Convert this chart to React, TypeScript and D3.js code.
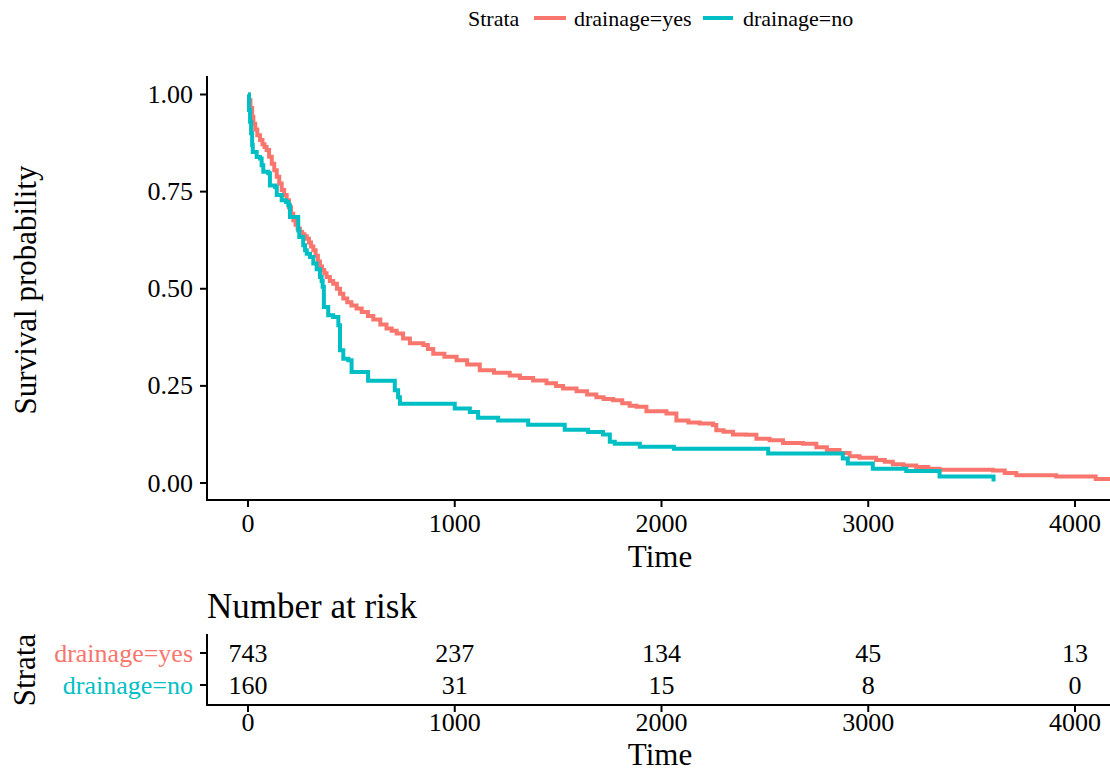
import React from "react";
import * as d3 from "d3";

const strata = ["drainage=yes", "drainage=no"];
const colors = ["#F8766D", "#00BFC4"];

const yesTime = [0, 5, 12, 20, 26, 35, 45, 58, 70, 80, 90, 102, 115, 127, 139, 151, 163, 175, 187, 198, 208, 219, 230, 240, 251, 262, 273, 284, 295, 305, 316, 327, 338, 348, 358, 369, 380, 396, 412, 430, 445, 461, 480, 500, 525, 550, 580, 606, 640, 670, 695, 719, 750, 783, 848, 870, 896, 950, 1009, 1060, 1121, 1190, 1266, 1315, 1379, 1444, 1490, 1524, 1589, 1640, 1685, 1720, 1766, 1810, 1846, 1879, 1927, 2024, 2072, 2130, 2185, 2249, 2265, 2300, 2346, 2410, 2459, 2523, 2588, 2684, 2749, 2800, 2861, 2910, 2958, 3038, 3080, 3119, 3170, 3232, 3290, 3345, 3603, 3660, 3716, 3909, 4100, 4170];
const yesSurv = [1.0, 0.985, 0.965, 0.943, 0.925, 0.91, 0.895, 0.883, 0.872, 0.865, 0.857, 0.84, 0.822, 0.805, 0.788, 0.771, 0.754, 0.741, 0.728, 0.71, 0.693, 0.676, 0.665, 0.655, 0.646, 0.64, 0.635, 0.629, 0.619, 0.609, 0.599, 0.585, 0.57, 0.557, 0.548, 0.54, 0.53, 0.52, 0.513, 0.5, 0.487, 0.475, 0.465, 0.457, 0.449, 0.44, 0.43, 0.421, 0.408, 0.398, 0.392, 0.385, 0.372, 0.36, 0.355, 0.345, 0.333, 0.325, 0.316, 0.305, 0.29, 0.284, 0.277, 0.27, 0.264, 0.257, 0.25, 0.243, 0.236, 0.228, 0.221, 0.216, 0.213, 0.205, 0.199, 0.196, 0.185, 0.179, 0.161, 0.156, 0.153, 0.149, 0.136, 0.132, 0.125, 0.124, 0.114, 0.11, 0.103, 0.101, 0.092, 0.085, 0.077, 0.069, 0.065, 0.059, 0.055, 0.048, 0.045, 0.041, 0.037, 0.034, 0.032, 0.026, 0.02, 0.017, 0.01, 0.01];

const noTime = [0, 5, 10, 15, 20, 23, 42, 58, 66, 74, 98, 106, 131, 139, 163, 184, 195, 203, 237, 243, 248, 267, 276, 284, 300, 316, 332, 348, 356, 361, 367, 388, 412, 437, 445, 461, 485, 501, 581, 710, 726, 735, 1000, 1073, 1113, 1210, 1355, 1532, 1645, 1717, 1750, 1774, 1895, 2060, 2516, 2877, 2901, 3022, 3184, 3345, 3606];
const noSurv = [1.0, 0.96, 0.93, 0.9, 0.87, 0.852, 0.839, 0.835, 0.818, 0.801, 0.797, 0.766, 0.762, 0.741, 0.728, 0.723, 0.715, 0.685, 0.685, 0.65, 0.633, 0.612, 0.599, 0.59, 0.582, 0.565, 0.55, 0.53, 0.52, 0.505, 0.453, 0.432, 0.427, 0.406, 0.342, 0.32, 0.316, 0.286, 0.263, 0.239, 0.221, 0.204, 0.192, 0.183, 0.168, 0.161, 0.15, 0.137, 0.131, 0.125, 0.106, 0.101, 0.093, 0.088, 0.076, 0.063, 0.05, 0.037, 0.031, 0.017, 0.004];

const riskTimes = [0, 1000, 2000, 3000, 4000];
const riskYes = [743, 237, 134, 45, 13];
const riskNo = [160, 31, 15, 8, 0];
const yTicks = [0, 0.25, 0.5, 0.75, 1.0];

const FONT = "'Liberation Serif', 'DejaVu Serif', serif";

export default function App() {
  const left = 207, right = 1110;
  const x = d3.scaleLinear().domain([0, 4000]).range([248, 1075]);
  const y = d3.scaleLinear().domain([0, 1]).range([483, 94.5]);
  const panelTop = 76, panelBottom = 500;

  const line = d3
    .line<[number, number]>()
    .x((d) => x(d[0]))
    .y((d) => y(d[1]))
    .curve(d3.curveStepAfter);

  const series = [
    yesTime.map((t, i) => [t, yesSurv[i]] as [number, number]),
    noTime.map((t, i) => [t, noSurv[i]] as [number, number]),
  ];
  const risks = [riskYes, riskNo];

  const rowY = d3.scaleBand<string>().domain(strata).range([637, 701]);
  const riskAxisY = 705;

  return (
    <svg
      width={1110}
      height={773}
      style={{ position: "absolute", left: 0, top: 0, background: "#fff" }}
      fontFamily={FONT}
    >
      <defs>
        <clipPath id="panel">
          <rect x={left} y={panelTop - 5} width={right - left} height={panelBottom - panelTop + 5} />
        </clipPath>
      </defs>

      {/* Legend */}
      <g fontSize={22}>
        <text x={468} y={26}>Strata</text>
        <line x1={534} x2={566} y1={18} y2={18} stroke={colors[0]} strokeWidth={4} />
        <text x={574} y={26}>{strata[0]}</text>
        <line x1={703} x2={733} y1={18} y2={18} stroke={colors[1]} strokeWidth={4} />
        <text x={743} y={26}>{strata[1]}</text>
      </g>

      {/* Curves */}
      <g clipPath="url(#panel)">
        {series.map((s, i) => (
          <path key={i} d={line(s) || ""} fill="none" stroke={colors[i]} strokeWidth={4} />
        ))}
      </g>

      {/* Main axes */}
      <line x1={left} x2={left} y1={panelTop} y2={panelBottom + 1} stroke="#000" strokeWidth={2} />
      <line x1={left - 1} x2={right} y1={panelBottom} y2={panelBottom} stroke="#000" strokeWidth={2} />
      {yTicks.map((t) => (
        <g key={t}>
          <line x1={left - 7} x2={left} y1={y(t)} y2={y(t)} stroke="#000" strokeWidth={2} />
          <text x={193} y={y(t)} textAnchor="end" dominantBaseline="central" fontSize={26}>
            {t.toFixed(2)}
          </text>
        </g>
      ))}
      {riskTimes.map((t) => (
        <g key={t}>
          <line x1={x(t)} x2={x(t)} y1={panelBottom} y2={panelBottom + 7} stroke="#000" strokeWidth={2} />
          <text x={x(t)} y={532} textAnchor="middle" fontSize={26}>{t}</text>
        </g>
      ))}
      <text x={660} y={567} textAnchor="middle" fontSize={31}>Time</text>
      <text transform="translate(36,290) rotate(-90)" textAnchor="middle" fontSize={31}>
        Survival probability
      </text>

      {/* Risk table */}
      <text x={207} y={618} fontSize={35}>Number at risk</text>
      <line x1={left} x2={left} y1={634} y2={riskAxisY + 1} stroke="#000" strokeWidth={2} />
      <line x1={left - 1} x2={right} y1={riskAxisY} y2={riskAxisY} stroke="#000" strokeWidth={2} />
      {strata.map((s, i) => {
        const ry = (rowY(s) || 0) + rowY.bandwidth() / 2;
        return (
          <g key={s}>
            <line x1={left - 7} x2={left} y1={ry} y2={ry} stroke="#000" strokeWidth={2} />
            <text x={193} y={ry} textAnchor="end" dominantBaseline="central" fontSize={26} fill={colors[i]}>
              {s}
            </text>
            {riskTimes.map((t, j) => (
              <text key={t} x={x(t)} y={ry} textAnchor="middle" dominantBaseline="central" fontSize={26}>
                {risks[i][j]}
              </text>
            ))}
          </g>
        );
      })}
      {riskTimes.map((t) => (
        <g key={t}>
          <line x1={x(t)} x2={x(t)} y1={riskAxisY} y2={riskAxisY + 7} stroke="#000" strokeWidth={2} />
          <text x={x(t)} y={731} textAnchor="middle" fontSize={26}>{t}</text>
        </g>
      ))}
      <text x={660} y={765} textAnchor="middle" fontSize={31}>Time</text>
      <text transform="translate(35,670) rotate(-90)" textAnchor="middle" fontSize={31}>Strata</text>
    </svg>
  );
}
